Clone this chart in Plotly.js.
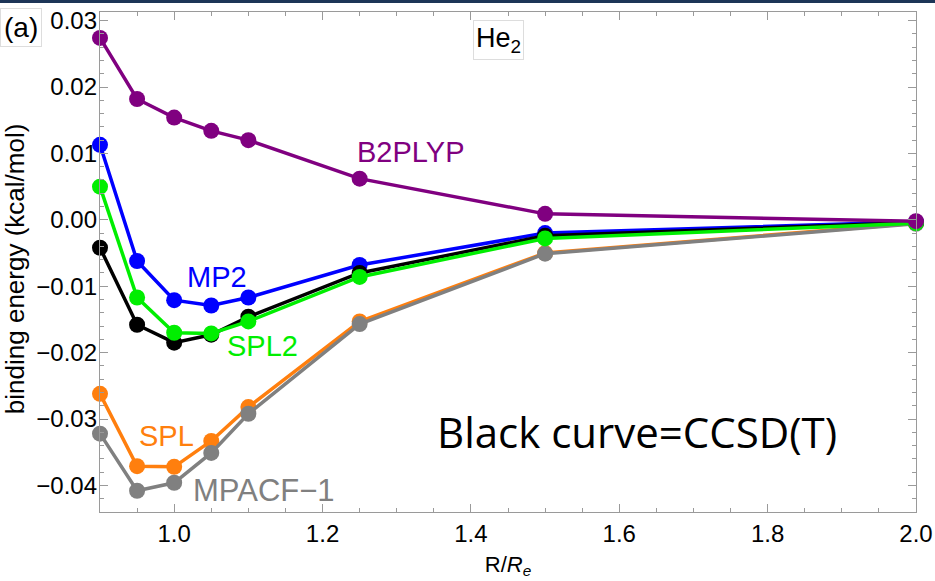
<!DOCTYPE html>
<html><head><meta charset="utf-8">
<script src="https://cdn.plot.ly/plotly-3.0.1.min.js"></script>
<style>html,body{margin:0;padding:0;background:#fff;}#topbar{position:absolute;left:0;top:0;width:935px;height:3px;background:#1d3557;z-index:5;}</style>
</head><body>
<div id="topbar"></div>
<div id="chart" style="width:935px;height:581px;"></div>
<script>
const R = [0.9, 0.95, 1.0, 1.05, 1.1, 1.25, 1.5, 2.0];
const b2plyp = [0.0274, 0.0182, 0.0154, 0.0134, 0.0120, 0.0062, 0.0009, -0.0002];
const mp2 = [0.0113, -0.0062, -0.0121, -0.0129, -0.0117, -0.0068, -0.0020, -0.0003];
const spl2 = [0.0050, -0.0117, -0.0170, -0.0171, -0.0153, -0.0086, -0.0028, -0.0005];
const ccsdt = [-0.0042, -0.0158, -0.0185, -0.0173, -0.0146, -0.0080, -0.0024, -0.0004];
const spl = [-0.0262, -0.0371, -0.0372, -0.0333, -0.0282, -0.0153, -0.0050, -0.0005];
const mpacf1 = [-0.0322, -0.0408, -0.0396, -0.0351, -0.0292, -0.0157, -0.0051, -0.0006];

function tr(y, c){
  return {x: R, y: y, mode: 'lines+markers', type: 'scatter', cliponaxis: false,
    line: {color: c, width: 3.5}, marker: {color: c, size: 16}, hoverinfo: 'skip'};
}
const data = [
  tr(spl, '#ff7f0e'),
  tr(mpacf1, '#808080'),
  tr(mp2, '#0000ff'),
  tr(ccsdt, '#000000'),
  tr(spl2, '#00ee00'),
  tr(b2plyp, '#800080')
];
const F = 'Liberation Sans, Arial, sans-serif';
function lab(t, x, y, c, s){
  return {text: t, x: x, y: y, xref: 'x', yref: 'y', showarrow: false,
    font: {family: F, size: s || 29, color: c}};
}
const layout = {
  width: 935, height: 581,
  margin: {l: 100, r: 19, t: 12, b: 69},
  paper_bgcolor: '#fff', plot_bgcolor: '#fff',
  showlegend: false,
  xaxis: {range: [0.9, 2.0], dtick: 0.2, tick0: 0, tickformat: '.1f',
    showgrid: false, zeroline: false, showline: true, linecolor: '#9a9a9a', linewidth: 1.2,
    mirror: 'allticks', ticks: 'inside', ticklen: 8, tickcolor: '#9a9a9a',
    minor: {dtick: 0.05, ticks: 'inside', ticklen: 4, tickcolor: '#9a9a9a'},
    tickfont: {family: F, size: 24, color: '#000'},
    title: {text: 'R/<i>R<sub>e</sub></i>', font: {family: F, size: 22, color: '#000'}, standoff: 10}},
  yaxis: {range: [-0.0440, 0.0313], dtick: 0.01, tick0: 0, tickformat: '.2f',
    showgrid: false, zeroline: false, showline: true, linecolor: '#9a9a9a', linewidth: 1.2,
    mirror: 'allticks', ticks: 'inside', ticklen: 8, tickcolor: '#9a9a9a',
    minor: {dtick: 0.002, ticks: 'inside', ticklen: 4, tickcolor: '#9a9a9a'},
    tickfont: {family: F, size: 24, color: '#000'}, ticklabelstandoff: -3},
  annotations: [
    {text: 'binding energy (kcal/mol)', x: -0.104, y: 0.486, xref: 'paper', yref: 'paper',
      textangle: -90, showarrow: false, xanchor: 'center', yanchor: 'middle',
      font: {family: F, size: 26, color: '#000'}},
    lab('B2PLYP', 1.319, 0.0102, '#800080'),
    lab('MP2', 1.0577, -0.0086, '#0000ff'),
    lab('SPL2', 1.1197, -0.0190, '#00ee00'),
    lab('SPL', 0.990, -0.0326, '#ff7f0e'),
    lab('MPACF−1', 1.1215, -0.0408, '#808080', 31),
    {text: 'Black curve=CCSD(T)', x: 1.6237, y: -0.0319, xref: 'x', yref: 'y', showarrow: false,
      font: {family: 'Open Sans, sans-serif', size: 42, color: '#000'}},
    {text: 'He<sub>2</sub>', x: 0.488, y: 0.984, xref: 'paper', yref: 'paper', xanchor: 'center', yanchor: 'top',
      showarrow: false, bordercolor: '#dddddd', borderwidth: 1, borderpad: 2, bgcolor: '#fff',
      font: {family: F, size: 27, color: '#000'}},
    {text: '(a)', x: -0.1225, y: 1.008, xref: 'paper', yref: 'paper', xanchor: 'left', yanchor: 'top',
      showarrow: false, bordercolor: '#dddddd', borderwidth: 1, borderpad: 3, bgcolor: '#fff',
      font: {family: F, size: 28, color: '#000'}}
  ]
};
Plotly.newPlot('chart', data, layout, {displayModeBar: false, staticPlot: true});
</script>
</body></html>
